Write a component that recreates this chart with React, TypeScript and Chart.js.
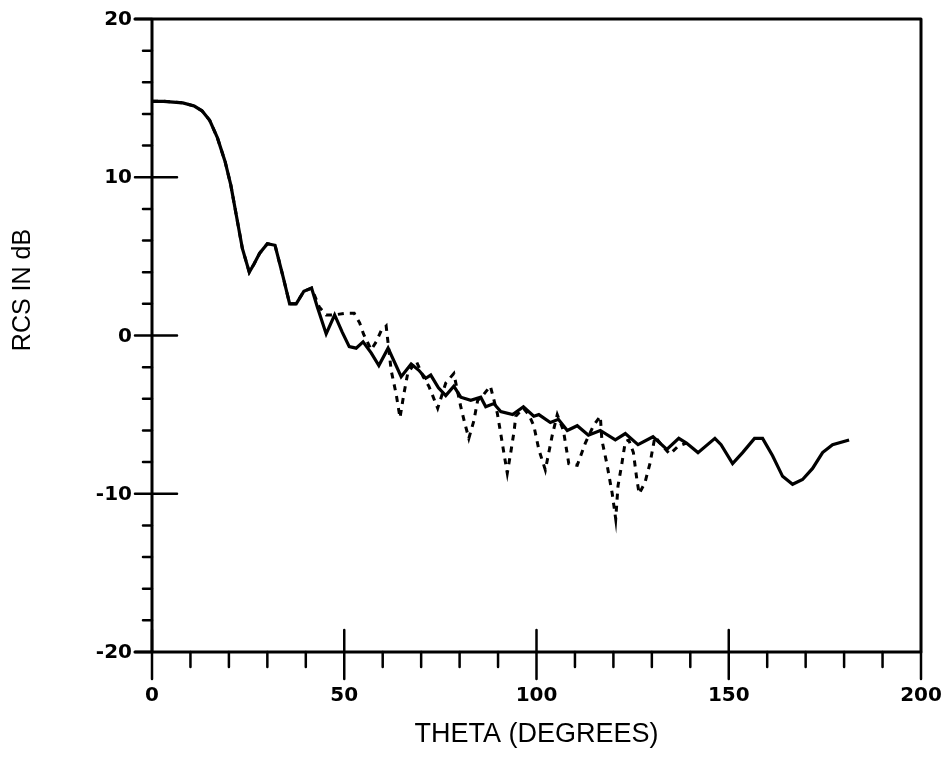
import React, { useEffect, useRef } from "react";
import { Chart, registerables } from "chart.js";

Chart.register(...registerables);

// Solid curve: theta (deg) and RCS (dB)
const solidTheta = [0, 3, 8, 11, 13, 15, 17, 19, 20.5, 22, 23.5, 25.3, 26.5, 28, 30, 32, 34, 35.8, 37.5, 39.5, 41.5, 43, 45.3, 47.5, 49.5, 51.3, 53.1, 54.9, 57, 59, 61.4, 64.8, 67.4, 69.4, 71.2, 72.5, 74.5, 76.4, 78.5, 80.3, 82.9, 85.5, 86.8, 88.9, 90.7, 93.8, 96.6, 99.3, 100.6, 103.6, 105.7, 108, 110.6, 113.5, 116.6, 120.5, 123.1, 126.4, 130.3, 133.9, 137, 139, 142, 146.4, 148, 151, 153.6, 156.7, 158.8, 161.4, 164, 166.6, 169.2, 171.8, 174.4, 177, 181.3];
const solidRcs = [14.8, 14.8, 14.7, 14.5, 14.2, 13.6, 12.5, 11.0, 9.5, 7.5, 5.5, 4.0, 4.5, 5.2, 5.8, 5.7, 3.8, 2.0, 2.0, 2.8, 3.0, 1.8, 0.1, 1.3, 0.2, -0.7, -0.8, -0.4, -1.1, -1.9, -0.8, -2.6, -1.8, -2.2, -2.7, -2.5, -3.3, -3.8, -3.2, -3.9, -4.1, -3.9, -4.5, -4.3, -4.8, -5.0, -4.5, -5.1, -5.0, -5.5, -5.3, -6.0, -5.7, -6.3, -6.0, -6.6, -6.2, -6.9, -6.4, -7.2, -6.5, -6.8, -7.4, -6.5, -6.9, -8.1, -7.4, -6.5, -6.5, -7.6, -8.9, -9.4, -9.1, -8.4, -7.4, -6.9, -6.6];

// Dotted curve: theta (deg) and RCS (dB)
const dottedTheta = [0, 3, 8, 11, 13, 15, 17, 19, 20.5, 22, 23.5, 25.3, 26.5, 28, 30, 32, 34, 35.8, 37.5, 39.5, 41.5, 43.5, 45.3, 47.5, 50, 52.6, 54, 55, 57, 58.3, 59.6, 60.9, 62.2, 63.5, 64.5, 65.5, 66.5, 68.7, 70.5, 72, 73, 74.3, 76.4, 78.5, 80.3, 81.3, 82.4, 83.7, 84.7, 86, 88, 89.8, 90.7, 91.5, 92.4, 93.3, 94.2, 94.6, 96.6, 98, 99.3, 100.6, 102.3, 104.1, 105.4, 107, 108.4, 110.6, 112.7, 114.8, 116.6, 117, 118.3, 119.7, 120.6, 121.2, 122.2, 123.1, 124, 125.2, 126.1, 126.7, 128.2, 129.5, 130.8, 132.5, 134.7, 136.8, 139];
const dottedRcs = [14.8, 14.8, 14.7, 14.5, 14.2, 13.6, 12.5, 11.0, 9.5, 7.5, 5.5, 4.0, 4.5, 5.2, 5.8, 5.7, 3.8, 2.0, 2.0, 2.8, 3.0, 1.8, 1.3, 1.3, 1.4, 1.4, 0.8, 0.1, -0.9, -0.4, 0.3, 0.6, -2.2, -3.7, -5.2, -3.7, -2.4, -1.6, -2.6, -3.2, -3.8, -4.6, -3.0, -2.4, -4.5, -5.5, -6.5, -5.4, -4.1, -3.8, -3.2, -4.9, -6.2, -7.4, -8.7, -7.4, -6.0, -5.1, -4.6, -5.0, -5.7, -7.2, -8.5, -6.3, -5.0, -6.0, -8.1, -8.2, -6.8, -5.7, -5.1, -6.6, -8.1, -10.0, -11.6, -9.5, -8.1, -6.7, -6.6, -7.4, -9.1, -10.0, -9.3, -8.1, -6.4, -6.9, -7.5, -7.0, -6.8];

// Axis ticks
const xMajorTicks = [0, 50, 100, 150, 200];
const xMinorTicks = [10, 20, 30, 40, 60, 70, 80, 90, 110, 120, 130, 140, 160, 170, 180, 190];
const yMajorTicks = [20, 10, 0, -10, -20];
const yMinorTicks = [18, 16, 14, 12, 8, 6, 4, 2, -2, -4, -6, -8, -12, -14, -16, -18];
const xTitle = "THETA (DEGREES)";
const yTitle = "RCS IN dB";

const axesPlugin = {
  id: "plotterAxes",
  afterDraw(chart: any) {
    const ctx = chart.ctx;
    const xs = chart.scales.x;
    const ys = chart.scales.y;
    const left = xs.getPixelForValue(0);
    const right = xs.getPixelForValue(200);
    const top = ys.getPixelForValue(20);
    const bottom = ys.getPixelForValue(-20);
    ctx.save();
    ctx.strokeStyle = "#000";
    ctx.fillStyle = "#000";
    ctx.lineCap = "round";
    ctx.lineWidth = 3;
    // frame
    ctx.beginPath();
    ctx.moveTo(left, top);
    ctx.lineTo(left, bottom);
    ctx.moveTo(left - 17, bottom);
    ctx.lineTo(right, bottom);
    ctx.moveTo(left - 17, top);
    ctx.lineTo(right, top);
    ctx.moveTo(right, top);
    ctx.lineTo(right, bottom);
    ctx.stroke();
    // ticks
    ctx.lineWidth = 2.5;
    ctx.beginPath();
    xMajorTicks.forEach((v) => {
      const px = xs.getPixelForValue(v);
      ctx.moveTo(px, v === 200 ? bottom : bottom - 22);
      ctx.lineTo(px, bottom + 27);
    });
    xMinorTicks.forEach((v) => {
      const px = xs.getPixelForValue(v);
      ctx.moveTo(px, bottom);
      ctx.lineTo(px, bottom + 15);
    });
    yMajorTicks.forEach((v) => {
      const py = ys.getPixelForValue(v);
      ctx.moveTo(left - 17, py);
      ctx.lineTo(v === 20 || v === -20 ? left : left + 25, py);
    });
    yMinorTicks.forEach((v) => {
      const py = ys.getPixelForValue(v);
      ctx.moveTo(left - 9, py);
      ctx.lineTo(left, py);
    });
    ctx.stroke();
    // tick labels
    ctx.font = "bold 20px 'DejaVu Sans'";
    ctx.textAlign = "right";
    ctx.textBaseline = "middle";
    yMajorTicks.forEach((v) => {
      ctx.fillText(String(v), left - 20, ys.getPixelForValue(v) + 1);
    });
    ctx.textAlign = "center";
    xMajorTicks.forEach((v) => {
      ctx.fillText(String(v), xs.getPixelForValue(v), bottom + 44);
    });
    // titles
    ctx.font = "27px 'Liberation Sans'";
    ctx.fillText(xTitle, (left + right) / 2, bottom + 83);
    ctx.font = "25px 'Liberation Sans'";
    ctx.translate(23, 290);
    ctx.rotate(-Math.PI / 2);
    ctx.fillText(yTitle, 0, 0);
    ctx.restore();
  },
};

export default function App() {
  const ref = useRef<HTMLCanvasElement | null>(null);
  useEffect(() => {
    if (!ref.current) return;
    const chart = new Chart(ref.current, {
      type: "line",
      data: {
        datasets: [
          {
            label: "dotted",
            data: dottedTheta.map((t, i) => ({ x: t, y: dottedRcs[i] })),
            borderColor: "#000",
            borderWidth: 3,
            borderDash: [6, 6],
            pointRadius: 0,
            tension: 0,
            fill: false,
          },
          {
            label: "solid",
            data: solidTheta.map((t, i) => ({ x: t, y: solidRcs[i] })),
            borderColor: "#000",
            borderWidth: 3.2,
            pointRadius: 0,
            tension: 0,
            fill: false,
          },
        ],
      },
      options: {
        responsive: false,
        animation: false,
        devicePixelRatio: 1,
        layout: { padding: { left: 152, right: 28, top: 19, bottom: 105 } },
        plugins: { legend: { display: false }, tooltip: { enabled: false } },
        scales: {
          x: { type: "linear", min: 0, max: 200, display: false },
          y: { type: "linear", min: -20, max: 20, display: false },
        },
      },
      plugins: [axesPlugin],
    });
    return () => chart.destroy();
  }, []);
  return (
    <div style={{ position: "fixed", left: 0, top: 0, width: 949, height: 757, background: "#fff" }}>
      <canvas ref={ref} width={949} height={757} />
    </div>
  );
}
